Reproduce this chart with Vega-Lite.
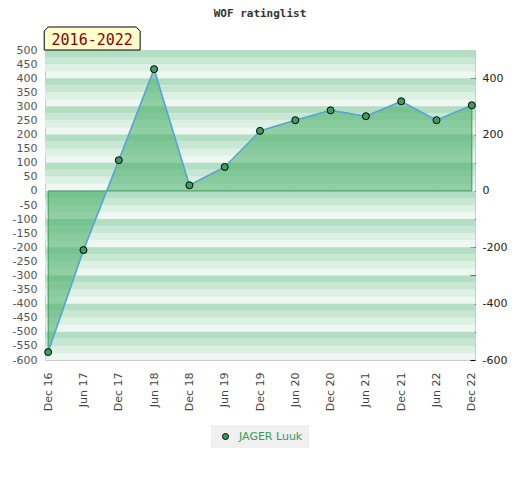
{
  "$schema": "https://vega.github.io/schema/vega-lite/v6.json",
  "width": 430,
  "height": 310,
  "autosize": "none",
  "padding": {"left": 45, "top": 50, "right": 45, "bottom": 120},
  "background": "white",
  "title": {
    "text": "WOF ratinglist",
    "font": "DejaVu Sans Mono",
    "fontSize": 11,
    "fontWeight": "bold",
    "color": "#333333",
    "frame": "group",
    "anchor": "middle",
    "offset": 6
  },
  "config": {
    "view": {"stroke": "#cccccc", "fill": "#eef7f1"},
    "axis": {"labelFont": "DejaVu Sans", "labelFontSize": 11, "title": null, "grid": false, "domain": false, "labelOverlap": false}
  },
  "datasets": {
    "ratings": [
      {"period": "Dec 16", "rating": -572, "player": "JAGER Luuk"},
      {"period": "Jun 17", "rating": -210, "player": "JAGER Luuk"},
      {"period": "Dec 17", "rating": 109, "player": "JAGER Luuk"},
      {"period": "Jun 18", "rating": 432, "player": "JAGER Luuk"},
      {"period": "Dec 18", "rating": 20, "player": "JAGER Luuk"},
      {"period": "Jun 19", "rating": 85, "player": "JAGER Luuk"},
      {"period": "Dec 19", "rating": 213, "player": "JAGER Luuk"},
      {"period": "Jun 20", "rating": 251, "player": "JAGER Luuk"},
      {"period": "Dec 20", "rating": 286, "player": "JAGER Luuk"},
      {"period": "Jun 21", "rating": 265, "player": "JAGER Luuk"},
      {"period": "Dec 21", "rating": 318, "player": "JAGER Luuk"},
      {"period": "Jun 22", "rating": 251, "player": "JAGER Luuk"},
      {"period": "Dec 22", "rating": 304, "player": "JAGER Luuk"}
    ],
    "bands": [
      {"top": 500, "q1": 475, "q2": 450, "q3": 425},
      {"top": 400, "q1": 375, "q2": 350, "q3": 325},
      {"top": 300, "q1": 275, "q2": 250, "q3": 225},
      {"top": 200, "q1": 175, "q2": 150, "q3": 125},
      {"top": 100, "q1": 75, "q2": 50, "q3": 25},
      {"top": 0, "q1": -25, "q2": -50, "q3": -75},
      {"top": -100, "q1": -125, "q2": -150, "q3": -175},
      {"top": -200, "q1": -225, "q2": -250, "q3": -275},
      {"top": -300, "q1": -325, "q2": -350, "q3": -375},
      {"top": -400, "q1": -425, "q2": -450, "q3": -475},
      {"top": -500, "q1": -525, "q2": -550, "q3": -575}
    ],
    "badge": [{"label": "2016-2022"}]
  },
  "layer": [
    {
      "data": {"name": "bands"},
      "mark": {"type": "rect", "fill": "#b3dec3"},
      "encoding": {
        "y": {"field": "top", "type": "quantitative",
              "scale": {"domain": [-600, 500], "nice": false, "zero": false},
              "axis": {
                "orient": "left",
                "values": [500, 450, 400, 350, 300, 250, 200, 150, 100, 50, 0, -50, -100, -150, -200, -250, -300, -350, -400, -450, -500, -550, -600],
                "labelExpr": "replace(datum.label, '\u2212', '-')",
                "ticks": false,
                "labelPadding": 8,
                "labelColor": "#555555"
              }},
        "y2": {"field": "q1"}
      }
    },
    {
      "data": {"name": "bands"},
      "mark": {"type": "rect", "fill": "#c8e7d3"},
      "encoding": {
        "y": {"field": "q1", "type": "quantitative",
              "scale": {"domain": [-600, 500], "nice": false, "zero": false}, "axis": null},
        "y2": {"field": "q2"}
      }
    },
    {
      "data": {"name": "bands"},
      "mark": {"type": "rect", "fill": "#dcf0e3"},
      "encoding": {
        "y": {"field": "q2", "type": "quantitative",
              "scale": {"domain": [-600, 500], "nice": false, "zero": false}, "axis": null},
        "y2": {"field": "q3"}
      }
    },
    {
      "data": {"name": "ratings"},
      "mark": {"type": "area", "fill": "#4baf6a", "fillOpacity": 0.58, "stroke": "#3a9a5a", "strokeWidth": 1},
      "encoding": {
        "x": {"field": "period", "type": "ordinal", "sort": null,
              "scale": {"type": "point", "padding": 0.09},
              "axis": {"labelAngle": -90, "ticks": false, "labelPadding": 12, "labelColor": "#444444"}},
        "y": {"field": "rating", "type": "quantitative",
              "scale": {"domain": [-600, 500], "nice": false, "zero": false}, "axis": null},
        "y2": {"datum": 0}
      }
    },
    {
      "data": {"name": "badge"},
      "mark": {
        "type": "point",
        "shape": "M-4.17,1L-4.17,-0.65L-3.82,-1L3.82,-1L4.17,-0.65L4.17,1Z",
        "size": 529,
        "filled": true,
        "fill": "#ffffcc",
        "stroke": "#000000",
        "strokeWidth": 1,
        "opacity": 1,
        "xOffset": 44,
        "yOffset": -11.5
      },
      "encoding": {
        "x": {"datum": "Dec 16", "type": "ordinal"},
        "y": {"datum": 500, "type": "quantitative",
              "scale": {"domain": [-600, 500], "nice": false, "zero": false}, "axis": null}
      }
    },
    {
      "data": {"name": "badge"},
      "mark": {
        "type": "text",
        "font": "DejaVu Sans Mono",
        "fontSize": 15,
        "color": "#8b0000",
        "align": "center",
        "baseline": "middle",
        "xOffset": 44,
        "yOffset": -10
      },
      "encoding": {
        "x": {"datum": "Dec 16", "type": "ordinal"},
        "y": {"datum": 500, "type": "quantitative",
              "scale": {"domain": [-600, 500], "nice": false, "zero": false}, "axis": null},
        "text": {"field": "label"}
      }
    },
    {
      "data": {"name": "ratings"},
      "mark": {"type": "line", "color": "#5aa5e0", "strokeWidth": 1.5},
      "encoding": {
        "x": {"field": "period", "type": "ordinal", "sort": null},
        "y": {"field": "rating", "type": "quantitative",
              "scale": {"domain": [-600, 500], "nice": false, "zero": false},
              "axis": {
                "orient": "right",
                "values": [400, 300, 200, 100, 0, -100, -200, -300, -400, -500, -600],
                "labelExpr": "datum.value % 200 === 0 ? replace(datum.label, '\u2212', '-') : ''",
                "tickSize": -5,
                "tickColor": "#000000",
                "labelPadding": 12,
                "labelColor": "#222222"
              }}
      }
    },
    {
      "data": {"name": "ratings"},
      "mark": {"type": "point", "filled": true, "size": 49, "stroke": "#000000", "strokeWidth": 1, "opacity": 1},
      "encoding": {
        "x": {"field": "period", "type": "ordinal", "sort": null},
        "y": {"field": "rating", "type": "quantitative",
              "scale": {"domain": [-600, 500], "nice": false, "zero": false}, "axis": null},
        "color": {"field": "player", "type": "nominal",
                  "scale": {"range": ["#3c9f5e"]},
                  "legend": {
                    "title": null,
                    "orient": "none",
                    "legendX": 166,
                    "legendY": 375,
                    "fillColor": "#f0f0f0",
                    "padding": 6,
                    "symbolType": "circle",
                    "symbolSize": 36,
                    "symbolStrokeColor": "#000000",
                    "symbolStrokeWidth": 1,
                    "symbolOffset": 3,
                    "labelOffset": 8,
                    "labelFont": "DejaVu Sans",
                    "labelFontSize": 11,
                    "labelColor": "#3a9a5a"
                  }}
      }
    }
  ],
  "resolve": {"scale": {"y": "independent"}}
}
